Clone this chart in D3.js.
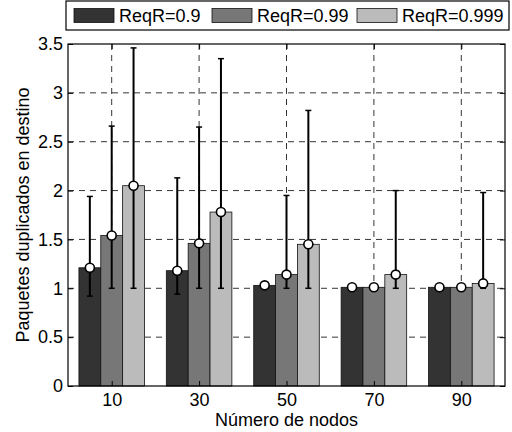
<!DOCTYPE html>
<html>
<head>
<meta charset="utf-8">
<script src="https://cdn.jsdelivr.net/npm/d3@7"></script>
<style>
  body { margin: 0; background: #fff; }
  text { font-family: "Liberation Sans", Arial, sans-serif; fill: #000; }
</style>
</head>
<body>
<script>
// values
var nodes = [10, 30, 50, 70, 90];
var series = ["ReqR=0.9", "ReqR=0.99", "ReqR=0.999"];
var means = [
  [1.21, 1.18, 1.03, 1.01, 1.01],
  [1.54, 1.46, 1.14, 1.01, 1.01],
  [2.05, 1.78, 1.45, 1.14, 1.05]
];
var lows = [
  [0.92, 0.94, 1.00, 1.01, 1.01],
  [1.00, 1.00, 1.00, 1.01, 1.01],
  [1.00, 1.00, 1.00, 1.00, 1.00]
];
var highs = [
  [1.94, 2.13, 1.04, 1.01, 1.01],
  [2.66, 2.65, 1.95, 1.01, 1.01],
  [3.46, 3.35, 2.82, 2.00, 1.98]
];
var yTicks = [0, 0.5, 1, 1.5, 2, 2.5, 3, 3.5];
var colors = ["#333333", "#777777", "#bbbbbb"];

var width = 512;
var height = 432;
var plotLeft = 68, plotRight = 505, plotTop = 44, plotBottom = 386;
var fontSize = "18px";

var svg = d3.select("body").append("svg")
            .attr("width", width)
            .attr("height", height);

var scaleX = d3.scaleLinear().domain([0, 100]).range([plotLeft, plotRight]);
var scaleY = d3.scaleLinear().domain([0, 3.5]).range([plotBottom, plotTop]);
// offset of each series inside a group, in data units
var sub = d3.scaleBand().domain(series).range([-7.5, 7.5]);

// grid (behind the bars)
var grid = svg.append("g").attr("stroke", "#000").attr("stroke-dasharray", "6,5")
              .attr("stroke-width", 0.8);
grid.selectAll(".gy").data(yTicks.slice(1, -1)).enter().append("line")
    .attr("x1", plotLeft).attr("x2", plotRight)
    .attr("y1", function(d) { return scaleY(d); })
    .attr("y2", function(d) { return scaleY(d); });
grid.selectAll(".gx").data(nodes).enter().append("line")
    .attr("y1", plotTop).attr("y2", plotBottom)
    .attr("x1", function(d) { return scaleX(d); })
    .attr("x2", function(d) { return scaleX(d); });

// bars
series.forEach(function(s, k) {
  var g = svg.append("g");
  g.selectAll("rect").data(means[k]).enter().append("rect")
   .attr("x", function(d, i) { return scaleX(nodes[i] + sub(s)); })
   .attr("width", scaleX(sub.bandwidth()) - scaleX(0))
   .attr("y", function(d) { return scaleY(d); })
   .attr("height", function(d) { return scaleY(0) - scaleY(d); })
   .attr("fill", colors[k])
   .attr("stroke", "#111")
   .attr("stroke-width", 0.8);
});

// error bars and markers
series.forEach(function(s, k) {
  var g = svg.append("g");
  var cx = function(d, i) { return scaleX(nodes[i] + sub(s) + sub.bandwidth() / 2); };
  g.selectAll(".eb").data(means[k]).enter().append("line")
   .attr("x1", cx).attr("x2", cx)
   .attr("y1", function(d, i) { return scaleY(lows[k][i]); })
   .attr("y2", function(d, i) { return scaleY(highs[k][i]); })
   .attr("stroke", "#000").attr("stroke-width", 2);
  [lows[k], highs[k]].forEach(function(arr) {
    g.selectAll(null).data(arr).enter().append("line")
     .attr("x1", function(d, i) { return cx(d, i) - 3; })
     .attr("x2", function(d, i) { return cx(d, i) + 3; })
     .attr("y1", function(d) { return scaleY(d); })
     .attr("y2", function(d) { return scaleY(d); })
     .attr("stroke", "#000").attr("stroke-width", 1.5)
     .attr("display", function(d, i) { return highs[k][i] - lows[k][i] > 0.02 ? null : "none"; });
  });
  g.selectAll("circle").data(means[k]).enter().append("circle")
   .attr("cx", cx)
   .attr("cy", function(d) { return scaleY(d); })
   .attr("r", 4.5)
   .attr("fill", "#fff").attr("stroke", "#000").attr("stroke-width", 1.6);
});

// axes box with inside ticks
svg.append("rect").attr("x", plotLeft).attr("y", plotTop)
   .attr("width", plotRight - plotLeft).attr("height", plotBottom - plotTop)
   .attr("fill", "none").attr("stroke", "#000").attr("stroke-width", 1.2);

var yAxis = d3.axisLeft(scaleY).tickValues(yTicks).tickSize(-5).tickPadding(5)
              .tickFormat(d3.format("~g"));
svg.append("g").attr("transform", "translate(" + plotLeft + ",0)").call(yAxis)
   .call(function(g) {
     g.select(".domain").remove();
     g.selectAll("text").style("font-size", fontSize).style("font-family", null);
   });
svg.append("g").attr("transform", "translate(" + plotRight + ",0)")
   .call(d3.axisRight(scaleY).tickValues(yTicks).tickSize(-5).tickFormat(""))
   .call(function(g) { g.select(".domain").remove(); });

var xAxis = d3.axisBottom(scaleX).tickValues(nodes).tickSize(-5).tickPadding(7);
svg.append("g").attr("transform", "translate(0," + plotBottom + ")").call(xAxis)
   .call(function(g) {
     g.select(".domain").remove();
     g.selectAll("text").style("font-size", fontSize).style("font-family", null);
   });
svg.append("g").attr("transform", "translate(0," + plotTop + ")")
   .call(d3.axisTop(scaleX).tickValues(nodes).tickSize(-5).tickFormat(""))
   .call(function(g) { g.select(".domain").remove(); });

// labels
svg.append("text").text("Número de nodos")
   .attr("x", (plotLeft + plotRight) / 2).attr("y", 426)
   .attr("text-anchor", "middle").style("font-size", fontSize);
svg.append("text").text("Paquetes duplicados en destino")
   .attr("text-anchor", "middle").style("font-size", fontSize)
   .attr("transform", "translate(29," + (plotTop + plotBottom) / 2 + ") rotate(-90)");

// legend
var legend = svg.append("g");
legend.append("rect").attr("x", 66).attr("y", 1).attr("width", 443).attr("height", 29)
      .attr("fill", "#fff").attr("stroke", "#000").attr("stroke-width", 1.2);
var legX = [74, 212, 357];
series.forEach(function(s, k) {
  legend.append("rect").attr("x", legX[k]).attr("y", 8.5).attr("width", 40).attr("height", 14)
        .attr("fill", colors[k]).attr("stroke", "#111").attr("stroke-width", 0.8);
  legend.append("text").text(s).attr("x", legX[k] + 45).attr("y", 22)
        .style("font-size", fontSize);
});
</script>
</body>
</html>
